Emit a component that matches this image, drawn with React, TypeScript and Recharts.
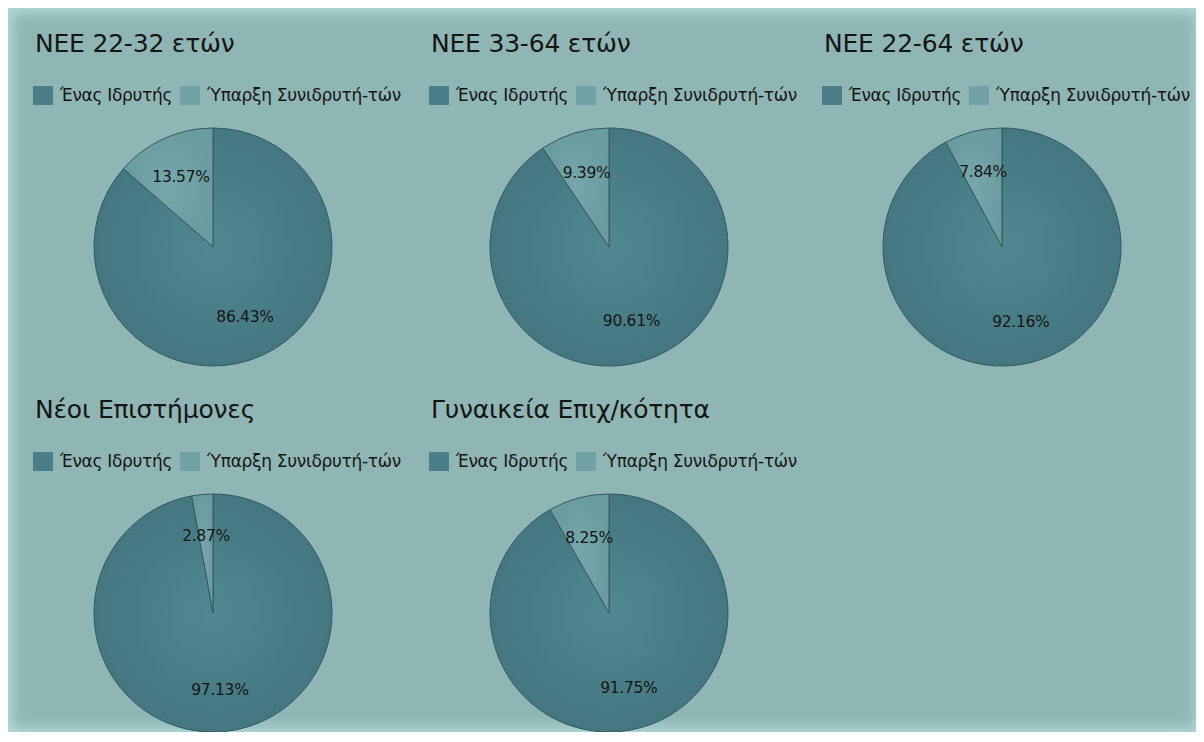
import React from 'react';
import { PieChart, Pie, Cell } from 'recharts';

const titles = ['NEE 22-32 ετών', 'NEE 33-64 ετών', 'NEE 22-64 ετών', 'Νέοι Επιστήμονες', 'Γυναικεία Επιχ/κότητα'];
const seriesNames = ['Ένας Ιδρυτής', 'Ύπαρξη Συνιδρυτή-τών'];
const singleFounder = [86.43, 90.61, 92.16, 97.13, 91.75];
const coFounders = [13.57, 9.39, 7.84, 2.87, 8.25];

const DARK = '#4b7f88';
const LIGHT = '#71a2a5';
const STROKE = '#2f5a61';
const FONT = '"DejaVu Sans", Verdana, sans-serif';

const colLeft = [25, 421, 814];
const rowTop = [10, 376];

const RAD = Math.PI / 180;

function PercentLabel(props: any) {
  const { cx, cy, midAngle, outerRadius, value } = props;
  const r = outerRadius * 0.65;
  const x = cx + r * Math.cos(-midAngle * RAD);
  const y = cy + r * Math.sin(-midAngle * RAD);
  return (
    <text x={x} y={y} textAnchor="middle" dominantBaseline="central"
      fontSize={15.5} fontFamily={FONT} fill="#151515" letterSpacing={-0.3}>
      {`${value.toFixed(2)}%`}
    </text>
  );
}

function LegendRow() {
  return (
    <div style={{ position: 'absolute', left: 0, top: 67, display: 'flex', fontFamily: FONT, fontSize: 17, color: '#151515' }}>
      {seriesNames.map((n, i) => (
        <div key={n} style={{ display: 'flex', alignItems: 'center', width: i === 0 ? 147 : 240, height: 20 }}>
          <span style={{ width: 20, height: 19, background: i === 0 ? DARK : LIGHT, display: 'inline-block', marginRight: 7, flex: 'none' }} />
          <span style={{ whiteSpace: 'nowrap', letterSpacing: -0.3 }}>{n}</span>
        </div>
      ))}
    </div>
  );
}

function FounderPie({ idx }: { idx: number }) {
  const data = [
    { name: seriesNames[0], value: singleFounder[idx] },
    { name: seriesNames[1], value: coFounders[idx] },
  ];
  const left = colLeft[idx % 3];
  const top = rowTop[Math.floor(idx / 3)];
  return (
    <div style={{ position: 'absolute', left, top, width: 395, height: 360 }}>
      <PieChart width={395} height={360} margin={{ top: 0, right: 0, bottom: 0, left: 0 }}>
        <defs>
          <radialGradient id={`dark${idx}`} cx="50%" cy="50%" r="50%">
            <stop offset="0%" stopColor="#51888f" />
            <stop offset="100%" stopColor="#44777f" />
          </radialGradient>
          <radialGradient id={`light${idx}`} cx="50%" cy="50%" r="50%">
            <stop offset="0%" stopColor="#76a7aa" />
            <stop offset="100%" stopColor="#6a9b9f" />
          </radialGradient>
        </defs>
        <Pie data={data} dataKey="value" nameKey="name" cx={180} cy={229} outerRadius={119}
          startAngle={90} endAngle={-270} stroke={STROKE} strokeWidth={1}
          label={PercentLabel} labelLine={false} isAnimationActive={false}>
          <Cell fill={`url(#dark${idx})`} />
          <Cell fill={`url(#light${idx})`} />
        </Pie>
      </PieChart>
      <div style={{ position: 'absolute', left: 2, top: 11, fontFamily: FONT, fontSize: 25, color: '#151515', whiteSpace: 'nowrap', letterSpacing: -0.2 }}>
        {titles[idx]}
      </div>
      <LegendRow />
    </div>
  );
}

export default function App() {
  return (
    <div style={{
      position: 'relative', width: 1192, height: 724, overflow: 'hidden',
      background: '#8fb6b4', boxShadow: 'inset 0 0 14px 4px #b3dbdb',
    }}>
      {titles.map((t, i) => <FounderPie key={t} idx={i} />)}
    </div>
  );
}
